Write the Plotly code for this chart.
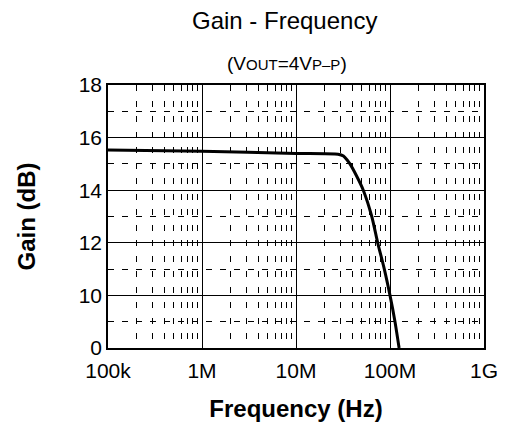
import plotly.graph_objects as go

freq_hz = [1e5, 1e6, 1e7, 2.8e7, 3.2e7, 3.5e7, 3.75e7, 4.4e7, 5.2e7, 6.4e7, 7.4e7, 8.7e7, 1.0e8, 1.13e8, 1.25e8]
gain_db = [15.53, 15.48, 15.40, 15.37, 15.3, 15.15, 15.0, 14.55, 14.0, 13.0, 12.0, 11.0, 10.0, 9.0, 8.0]

x_tickvals = [1e5, 1e6, 1e7, 1e8, 1e9]
x_ticktext = ["100k", "1M", "10M", "100M", "1G"]
y_tickvals = [8, 10, 12, 14, 16, 18]
y_ticktext = ["0", "10", "12", "14", "16", "18"]

FONT = "Liberation Sans"

fig = go.Figure()
fig.add_trace(go.Scatter(x=freq_hz, y=gain_db, mode="lines",
                         line=dict(color="black", width=3, shape="spline", smoothing=0.6),
                         showlegend=False, hoverinfo="skip"))

fig.update_layout(
    width=510, height=426,
    margin=dict(l=100, r=34, t=77, b=86),
    paper_bgcolor="white", plot_bgcolor="white",
    font=dict(family=FONT, color="black", size=21),
    annotations=[
        dict(text="Gain - Frequency", x=0.47, xref="paper", y=1, yref="paper", yshift=65,
             yanchor="middle", showarrow=False, font=dict(size=24, family=FONT)),
        dict(text="(V<span style='font-size:15px'>OUT</span>=4V<span style='font-size:15px'>P\u2013P</span>)",
             x=0.475, xref="paper", y=1, yref="paper", yshift=22, yanchor="middle",
             showarrow=False, font=dict(size=19, family=FONT)),
    ],
)

fig.update_xaxes(
    type="log", range=[5, 9],
    tickvals=x_tickvals, ticktext=x_ticktext,
    showgrid=True, gridcolor="black", gridwidth=1,
    showline=True, linecolor="black", linewidth=1.5, mirror=True,
    ticks="", tickfont=dict(size=21), ticklabelstandoff=3,
    minor=dict(dtick="D1", showgrid=True, gridcolor="black", gridwidth=1,
               griddash="6px,9.5px", ticks=""),
    title=dict(text="<b>Frequency (Hz)</b>", font=dict(size=24, family=FONT), standoff=19),
    zeroline=False,
)
fig.update_yaxes(
    range=[8, 18],
    tickvals=y_tickvals, ticktext=y_ticktext,
    showgrid=True, gridcolor="black", gridwidth=1,
    showline=True, linecolor="black", linewidth=1.5, mirror=True,
    ticks="", tickfont=dict(size=21),
    minor=dict(dtick=1, tick0=8, showgrid=True, gridcolor="black", gridwidth=1,
               griddash="6px,8px", ticks=""),
    title=dict(text="<b>Gain (dB)</b>", font=dict(size=24, family=FONT), standoff=36),
    zeroline=False,
)

fig.write_html("out.html")
